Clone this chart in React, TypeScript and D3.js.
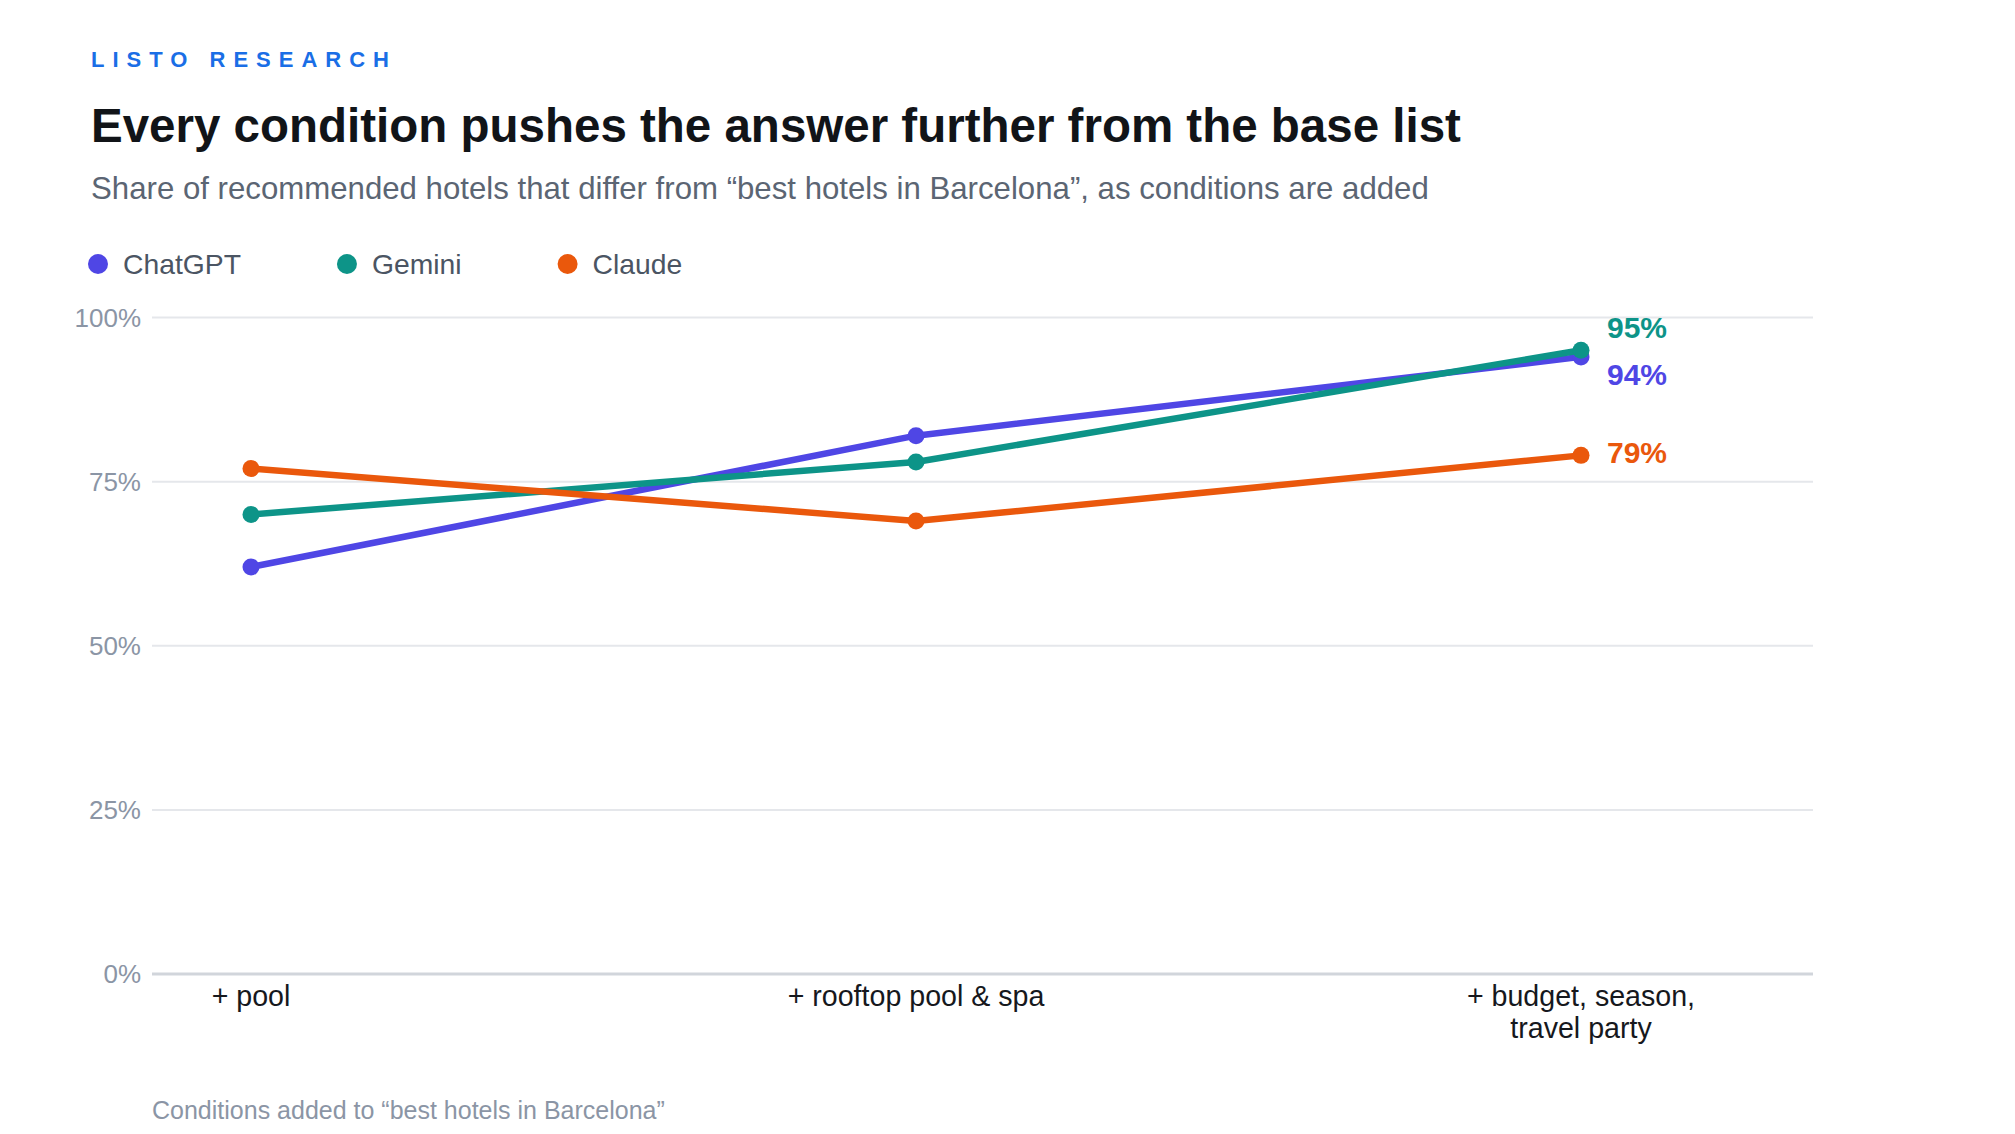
import React, { useEffect, useRef } from "react";
import * as d3 from "d3";

const categories = ["+ pool", "+ rooftop pool & spa", "+ budget, season,\ntravel party"];
const seriesNames = ["ChatGPT", "Gemini", "Claude"];
const chatgptValues = [62, 82, 94];
const geminiValues = [70, 78, 95];
const claudeValues = [77, 69, 79];
const seriesColors = ["#4f46e5", "#0d9488", "#ea580c"];
const yTicks = [0, 25, 50, 75, 100];

const W = 2015;
const H = 1134;
const FONT = "'Liberation Sans', Arial, Helvetica, sans-serif";

export default function App() {
  const ref = useRef<SVGSVGElement | null>(null);

  useEffect(() => {
    document.body.style.margin = "0";
    const svg = d3.select(ref.current);
    svg.selectAll("*").remove();

    const plotLeft = 152;
    const plotRight = 1813;
    const plotTop = 317.5;
    const plotBottom = 974;

    const y = d3.scaleLinear().domain([0, 100]).range([plotBottom, plotTop]);
    const x = d3.scalePoint<string>().domain(categories).range([251, 1581]);

    // Header
    svg.append("text").attr("x", 91).attr("y", 67)
      .attr("font-family", FONT).attr("font-size", 22).attr("font-weight", 700)
      .attr("letter-spacing", 8).attr("fill", "#1a6ee6").text("LISTO RESEARCH");
    svg.append("text").attr("x", 91).attr("y", 142)
      .attr("font-family", FONT).attr("font-size", 47.5).attr("font-weight", 700)
      .attr("fill", "#111418").text("Every condition pushes the answer further from the base list");
    svg.append("text").attr("x", 91).attr("y", 199)
      .attr("font-family", FONT).attr("font-size", 31.2)
      .attr("fill", "#5b6573").text("Share of recommended hotels that differ from \u201cbest hotels in Barcelona\u201d, as conditions are added");

    // Legend
    let lx = 98;
    seriesNames.forEach((name, i) => {
      const g = svg.append("g");
      g.append("circle").attr("cx", lx).attr("cy", 264).attr("r", 10).attr("fill", seriesColors[i]);
      const t = g.append("text").attr("x", lx + 25).attr("y", 274)
        .attr("font-family", FONT).attr("font-size", 28.3).attr("fill", "#4b5563").text(name);
      const w = (t.node() as SVGTextElement).getComputedTextLength();
      lx = lx + 25 + w + 106;
    });

    // Grid
    yTicks.forEach((v) => {
      svg.append("line").attr("x1", plotLeft).attr("x2", plotRight)
        .attr("y1", y(v)).attr("y2", y(v))
        .attr("stroke", v === 0 ? "#d1d5db" : "#e5e7eb").attr("stroke-width", v === 0 ? 3 : 2);
      svg.append("text").attr("x", 141).attr("y", y(v)).attr("dy", "0.35em")
        .attr("text-anchor", "end").attr("font-family", FONT).attr("font-size", 26)
        .attr("fill", "#8b95a5").text(`${v}%`);
    });

    // X labels
    categories.forEach((c) => {
      const lines = c.split("\n");
      const t = svg.append("text").attr("text-anchor", "middle")
        .attr("font-family", FONT).attr("font-size", 28.6).attr("fill", "#16181d");
      lines.forEach((ln, j) => {
        t.append("tspan").attr("x", x(c)!).attr("y", 1006 + j * 32).text(ln);
      });
    });

    // Footer
    svg.append("text").attr("x", 152).attr("y", 1119)
      .attr("font-family", FONT).attr("font-size", 25).attr("fill", "#8b95a5")
      .text("Conditions added to \u201cbest hotels in Barcelona\u201d");

    // Series
    const allValues = [chatgptValues, geminiValues, claudeValues];
    const line = d3.line<number>().x((_, i) => x(categories[i])!).y((v) => y(v));
    allValues.forEach((vals, si) => {
      const g = svg.append("g");
      g.append("path").attr("d", line(vals)!).attr("fill", "none")
        .attr("stroke", seriesColors[si]).attr("stroke-width", 6.5)
        .attr("stroke-linejoin", "round").attr("stroke-linecap", "round");
      vals.forEach((v, i) => {
        g.append("circle").attr("cx", x(categories[i])!).attr("cy", y(v)).attr("r", 8.5)
          .attr("fill", seriesColors[si]);
      });
    });

    // End labels with collision avoidance
    const lastX = x(categories[categories.length - 1])!;
    const ends = allValues.map((vals, si) => ({
      si, v: vals[vals.length - 1], y: y(vals[vals.length - 1]),
    }));
    ends.sort((a, b) => a.y - b.y);
    const minGap = 47;
    for (let iter = 0; iter < 20; iter++) {
      for (let k = 1; k < ends.length; k++) {
        const overlap = minGap - (ends[k].y - ends[k - 1].y);
        if (overlap > 0) {
          ends[k - 1].y -= overlap / 2;
          ends[k].y += overlap / 2;
        }
      }
    }
    ends.forEach((e) => {
      svg.append("text").attr("x", lastX + 26).attr("y", e.y - 2.5).attr("dy", "0.35em")
        .attr("font-family", FONT).attr("font-size", 30).attr("font-weight", 700)
        .attr("fill", seriesColors[e.si]).text(`${e.v}%`);
    });
  }, []);

  return (
    <svg ref={ref} width={W} height={H} viewBox={`0 0 ${W} ${H}`}
      style={{ display: "block", background: "#ffffff" }} />
  );
}
